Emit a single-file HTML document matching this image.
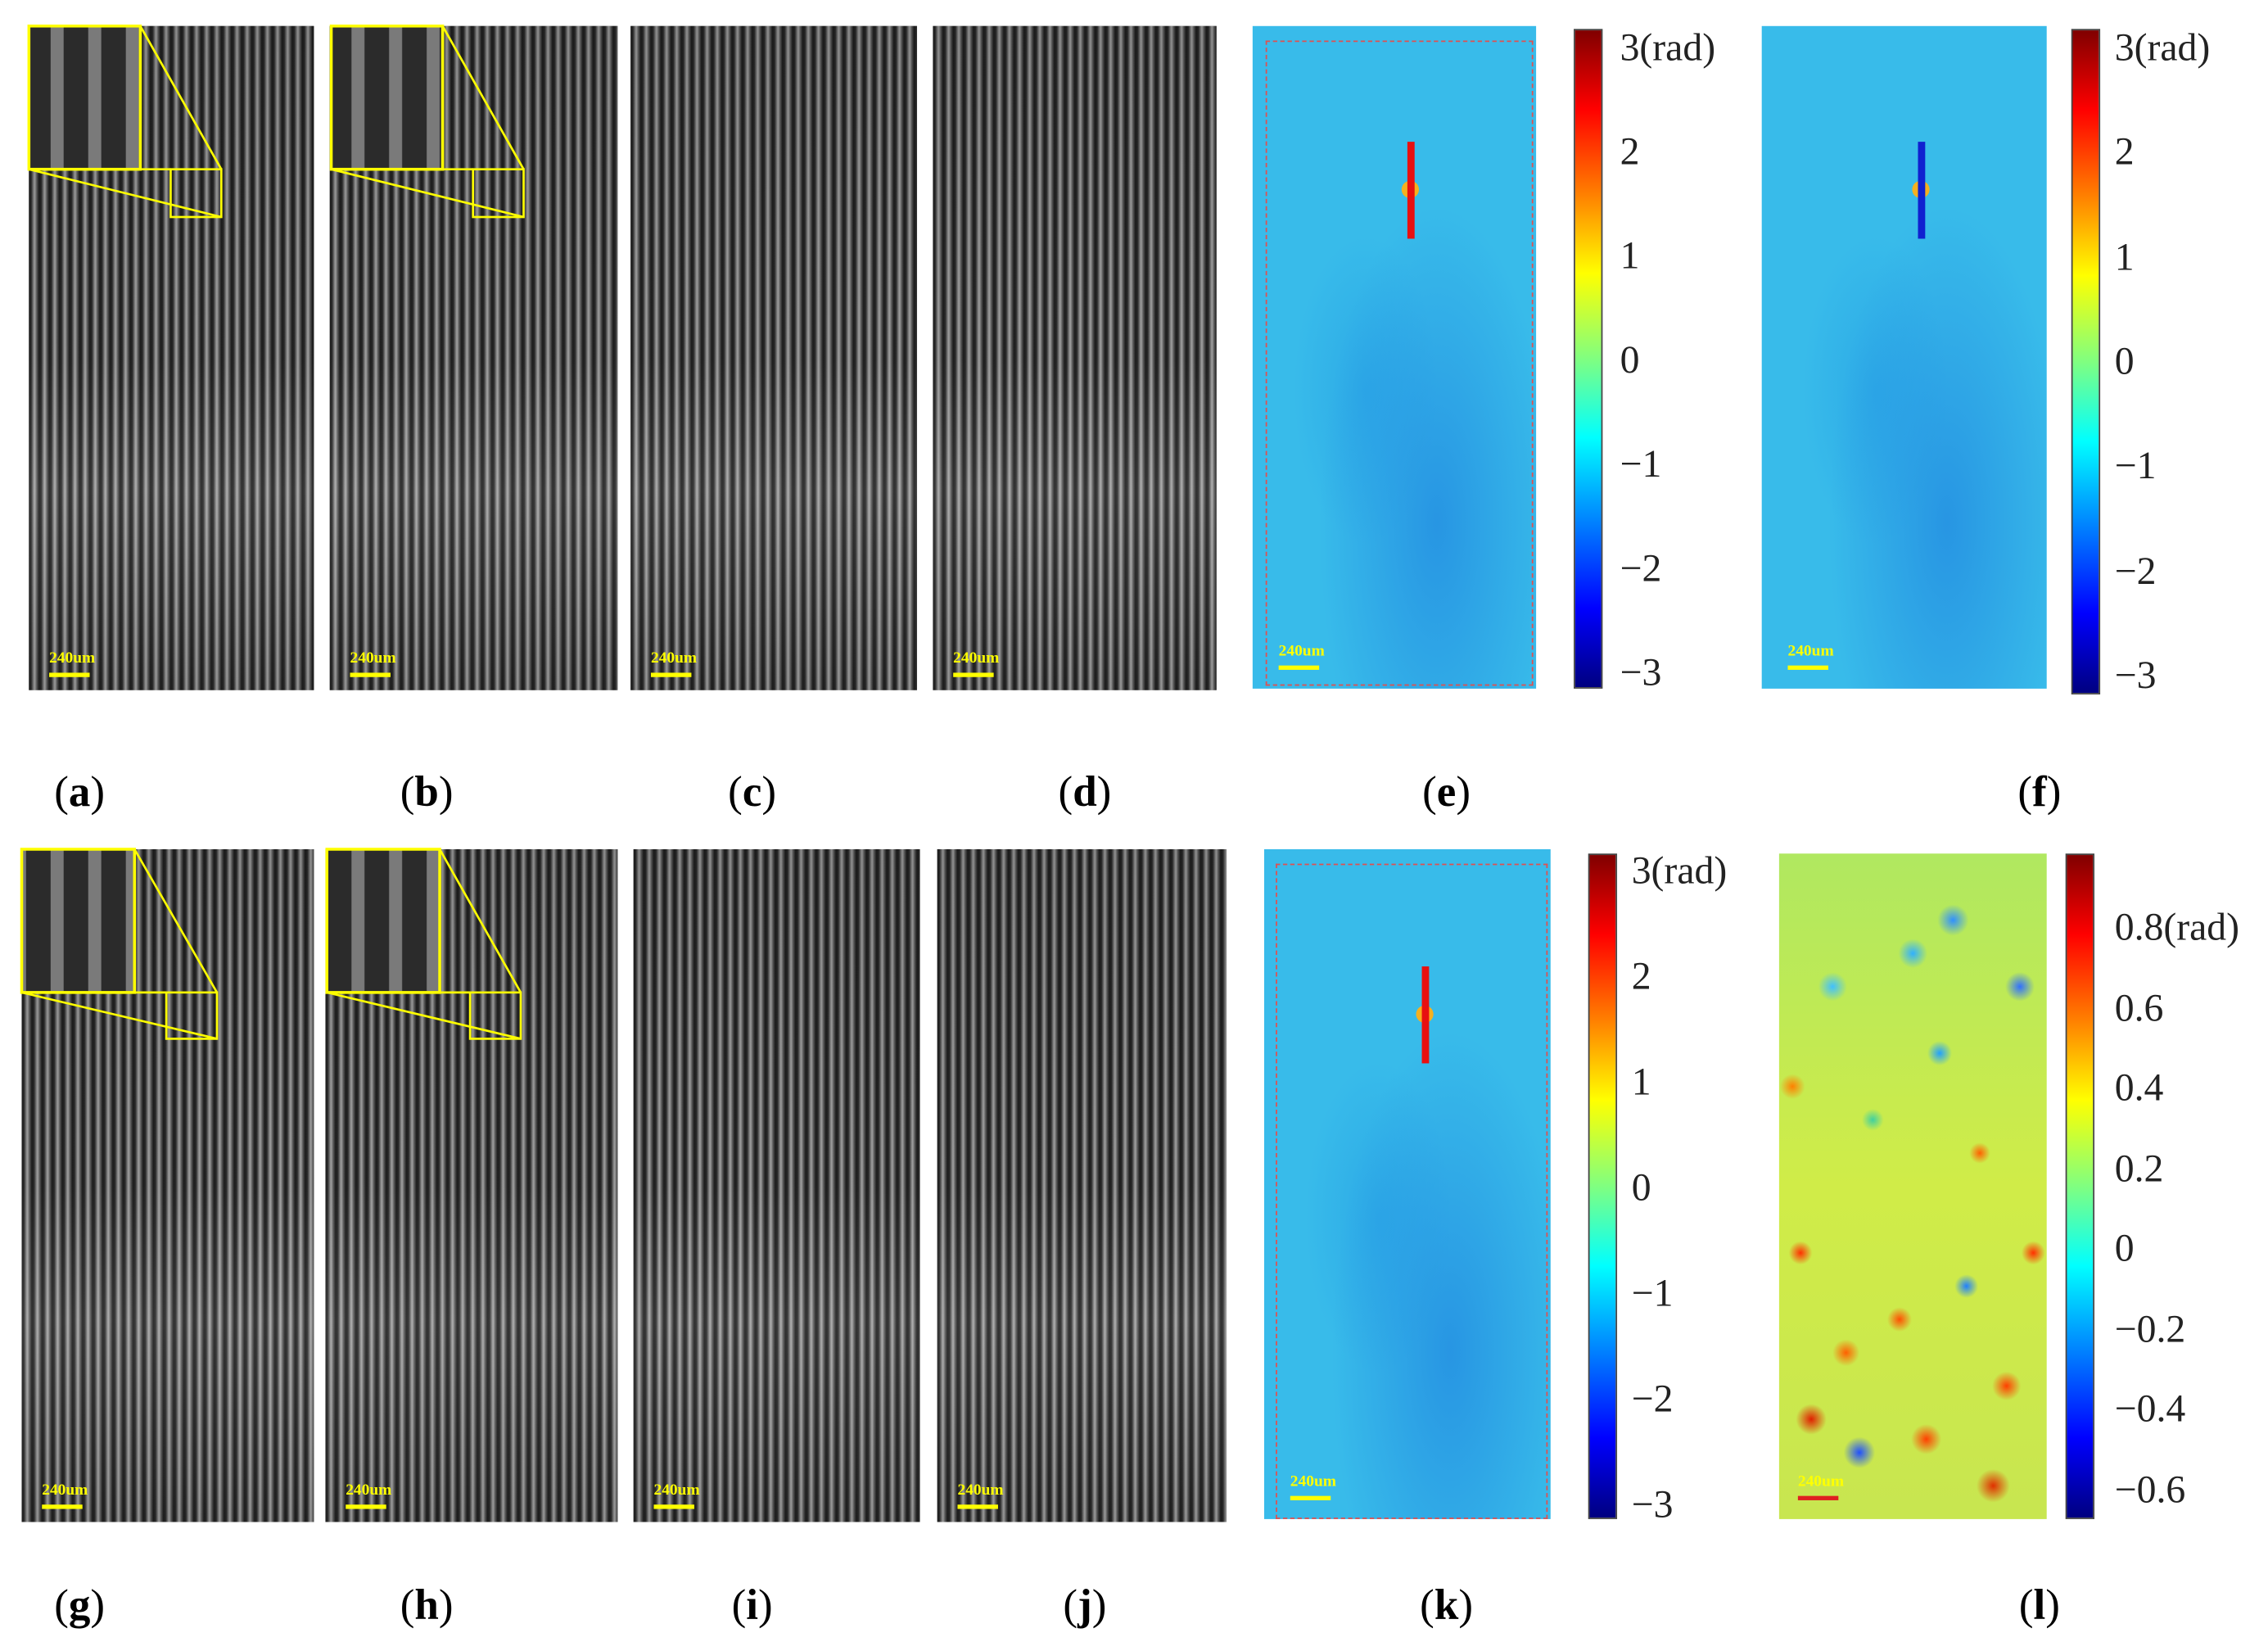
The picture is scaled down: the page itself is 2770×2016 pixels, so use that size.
<!DOCTYPE html>
<html><head><meta charset="utf-8"><style>
html,body{margin:0;padding:0;background:#fff;width:2770px;height:2015px;overflow:hidden}
#root{position:absolute;left:0;top:0;width:1568px;height:1141px;transform:scale(1.76658);transform-origin:0 0;font-family:"Liberation Serif",serif}
.fr{position:absolute;background-color:#333;background-image:repeating-linear-gradient(90deg,#1e1e1e 0px,#2a2a2a 1.5px,#9a9a9a 3.5px,#a8a8a8 4px,#5a5a5a 5.5px,#1e1e1e 7px)}
.fr::after{content:"";position:absolute;inset:0;background:linear-gradient(180deg,rgba(0,0,0,.15) 0%,rgba(0,0,0,0.05) 50%,rgba(255,255,255,.08) 70%,rgba(0,0,0,.1) 100%)}
.map{position:absolute;background:#35b7ea}
.cb{position:absolute;background:linear-gradient(180deg,#800000 0%,#ff0000 12%,#ff8000 25%,#ffff00 37%,#80ff80 50%,#00ffff 62%,#0080ff 75%,#0000ff 88%,#000080 100%);border:1px solid #444}
.tk{position:absolute;font-size:27px;color:#222;line-height:1;transform:translateY(-50%);white-space:nowrap}
.lab{position:absolute;font-size:30px;color:#000;transform:translateX(-50%)}
.sbt{position:absolute;color:#ff0;font-size:11px;font-weight:bold;z-index:2}
.sbb{position:absolute;background:#ff0;height:3px;width:28px;z-index:2}
</style></head><body><div id="root"></div>
<script>
const root=document.getElementById('root');
const fringePanels=[['a',20,18,197,459],['b',228,18,199,459],['c',436,18,198,459],['d',645,18,196,459],['g',15,587,202,465],['h',225,587,202,465],['i',438,587,198,465],['j',648,587,200,465]];
const cbTicksE=['3(rad)','2','1','0','\u22121','\u22122','\u22123'];
const cbTicksL=['0.8(rad)','0.6','0.4','0.2','0','\u22120.2','\u22120.4','\u22120.6'];
const labels=[['a',55,548],['b',295,548],['c',520,548],['d',750,548],['e',1000,548],['f',1410,548],['g',55,1110],['h',295,1110],['i',520,1110],['j',750,1110],['k',1000,1110],['l',1410,1110]];
function mk(cls,x,y,w,h,name){const d=document.createElement('div');d.className=cls;d.style.left=x+'px';d.style.top=y+'px';if(w!=null)d.style.width=w+'px';if(h!=null)d.style.height=h+'px';


root.appendChild(d);return d;}
function scalebar(x,y,col,id){const t=mk('sbt',x,y-8,null,null,'scale-bar-label-'+id);t.textContent='240um';const b=mk('sbb',x,y+8,null,null,'scale-bar-'+id);if(col){b.style.background=col;}}
fringePanels.forEach(p=>{mk('fr',p[1],p[2],p[3],p[4],'fringe-image-'+p[0]);scalebar(p[1]+14,p[2]+p[4]-20,null,p[0]);});
const svgNS='http://www.w3.org/2000/svg';
function inset(x0,y0,bw,bh,sx,sy,sw,sh,id){const s=document.createElementNS(svgNS,'svg');s.setAttribute('style','position:absolute;left:0;top:0;overflow:visible');s.setAttribute('width','1568');s.setAttribute('height','1141');


s.innerHTML=`<rect x="${x0}" y="${y0}" width="${bw}" height="${bh}" fill="#3a3a3a"/><rect x="${x0}" y="${y0}" width="${bw}" height="${bh}" fill="url(#pz)" stroke="#ffff00" stroke-width="2"/><rect x="${sx}" y="${sy}" width="${sw}" height="${sh}" fill="none" stroke="#ffff00" stroke-width="1.5"/><line x1="${x0+bw}" y1="${y0}" x2="${sx+sw}" y2="${sy}" stroke="#ff0" stroke-width="1.5"/><line x1="${x0}" y1="${y0+bh}" x2="${sx+sw}" y2="${sy+sh}" stroke="#ff0" stroke-width="1.5"/><line x1="${x0+bw}" y1="${y0+bh}" x2="${sx}" y2="${sy}" stroke="#ff0" stroke-width="1.5"/>`;
root.appendChild(s);}
const defs=document.createElementNS(svgNS,'svg');defs.setAttribute('width','0');defs.setAttribute('height','0');defs.style.position='absolute';
defs.innerHTML='<defs><pattern id="pz" width="26" height="40" patternUnits="userSpaceOnUse"><rect width="26" height="40" fill="#2b2b2b"/><rect x="9" width="9" height="40" fill="#7a7a7a"/></pattern></defs>';root.appendChild(defs);
inset(20,18,77,99,118,117,35,33,'a');inset(229,18,77,99,327,117,35,33,'b');
inset(15,587,78,99,115,686,35,32,'g');inset(226,587,78,99,325,686,35,32,'h');
function phase(id,x,y,w,h,dash,barCol,bx,by1,by2){const m=mk('map',x,y,w,h,'phase-map-'+id);
m.style.background='radial-gradient(ellipse at 65% 75%,rgba(35,140,225,.8) 0%,rgba(40,140,230,0) 45%),radial-gradient(ellipse at 40% 55%,rgba(42,166,230,.8) 0%,rgba(0,0,0,0) 30%),#38bbea';
if(dash){const r=mk('',dash[0],dash[1],dash[2],dash[3],'roi-box-'+id);r.style.position='absolute';r.style.border='1px dashed #e05050';}
const dot=mk('',bx-6,(by1+by2)/2-7,12,12,'defect-spot-'+id);dot.style.position='absolute';dot.style.borderRadius='50%';dot.style.background='#f5b020';
const b=mk('',bx-2.5,by1,5,by2-by1,'profile-line-'+id);b.style.position='absolute';b.style.background=barCol;
scalebar(x+18,y+h-24,null,id);}
phase('e',866,18,196,458,[875,28,183,444],'#e81010',975,98,165);
phase('f',1218,18,197,458,null,'#1020d0',1328,98,165);
phase('k',874,587,198,463,[882,597,186,451],'#e81010',985,668,735);
const ml=mk('map',1230,590,185,460,'error-map-l');
let g=[];const pts=[[8,60,'#ff3000'],[85,80,'#ff4000'],[30,90,'#2050ff'],[60,30,'#20a0ff'],[20,20,'#40c0ff'],[75,45,'#ff6000'],[45,70,'#ff5000'],[12,85,'#e02000'],[90,20,'#3070ff'],[55,88,'#ff4000'],[35,40,'#40d0a0'],[70,65,'#2080ff'],[5,35,'#ff8000'],[95,60,'#ff3000'],[50,15,'#30b0ff'],[25,75,'#ff6000'],[80,95,'#e03000'],[65,10,'#3090ff']];
pts.forEach(p=>g.push(`radial-gradient(circle at ${p[0]}% ${p[1]}%,${p[2]} 0,rgba(0,0,0,0) 2.5%)`));
g.push('linear-gradient(180deg,#b0e860 0%,#d0ec48 50%,#c8e650 100%)');
ml.style.background=g.join(',');
scalebar(1243,1026,'#e02020','l');
function cbar(id,x,y1,y2,ticks,tx,top,bot){mk('cb',x,y1,18,y2-y1,'colorbar-'+id);
const n=ticks.length;
ticks.forEach((t,i)=>{const yy=top+(bot-top)*i/(n-1);const d=mk('tk',tx,yy,null,null,'colorbar-tick-'+id+'-'+i);d.textContent=t;});}
cbar('e',1088,20,474,cbTicksE,1120,33,465);
cbar('f',1432,20,478,cbTicksE,1462,33,467);
cbar('k',1098,590,1048,cbTicksE,1128,602,1040);
cbar('l',1428,590,1048,cbTicksL,1462,641,1030);
labels.forEach(l=>{const d=mk('lab',l[1],l[2]-17,null,null,'panel-label-'+l[0]);d.innerHTML='(<b>'+l[0]+'</b>)';});
</script></body></html>
